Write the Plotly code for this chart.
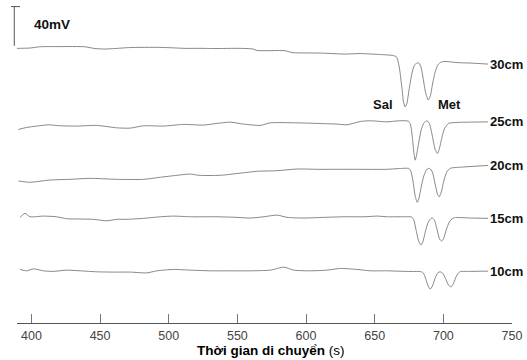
import plotly.graph_objects as go

# Electropherograms: migration time (s) and detector signal (mV, relative to the
# start of each trace) for each effective capillary length.
t_30 = [389.3, 398.8, 406.1, 420.6, 438.9, 446.2, 453.5, 460.7, 471.7, 493.6, 511.8, 522.7,
        533.7, 551.9, 561.4, 564.3, 584.7, 589.8, 610.2, 628.5, 639.4, 654.0, 663.5, 666.0,
        668.0, 670.0, 671.0, 672.2, 673.5, 675.0, 677.0, 679.0, 681.7, 683.5, 685.0, 687.0,
        689.0, 690.5, 692.0, 694.0, 696.0, 698.5, 702.0, 710.0, 720.0, 732.5]
mv_30 = [0, 0.3, 1.6, 1.8, 1.6, -0.2, -0.7, -0.2, 0.8, 1.0, 0, 0,
         -0.2, 0, -0.7, -2.2, -2.4, -4.3, -4.8, -5.8, -5.3, -6.3, -7.3, -8.9,
         -20.1, -42.4, -54.7, -59.6, -55.7, -42.4, -26.2, -17.0, -14.5, -18.0, -28.2, -44.5,
         -52.6, -48.6, -37.4, -24.1, -17.0, -13.9, -13.4, -14.5, -15.0, -16.0]

t_25 = [390.5, 396.6, 403.9, 412.4, 420.9, 433.0, 447.6, 462.2, 471.9, 481.7, 496.3, 510.8,
        525.4, 535.1, 544.8, 554.6, 566.7, 574.0, 593.5, 608.0, 622.6, 629.9, 639.6, 646.9,
        659.1, 668.0, 674.5, 676.0, 677.5, 678.5, 679.5, 680.5, 682.0, 684.0, 686.0, 688.2,
        690.0, 692.0, 694.0, 695.7, 697.0, 699.0, 701.0, 703.8, 710.0, 720.0, 732.5]
mv_25 = [0, 2.0, 3.4, 4.7, 3.7, 3.4, 4.1, 1.6, 1.3, 3.7, 3.4, 5.1,
         4.4, 6.1, 7.4, 5.4, 4.1, 6.7, 6.7, 6.1, 5.4, 4.7, 8.1, 8.8,
         7.7, 8.8, 8.4, 5.4, -8.9, -23.1, -31.3, -26.2, -13.9, 0.3, 6.9, 8.8,
         5.4, -6.8, -20.1, -24.4, -20.1, -7.9, 1.3, 6.1, 7.1, 7.4, 7.7]

t_20 = [390.5, 399.0, 413.6, 428.1, 442.7, 462.2, 481.7, 493.8, 506.0, 515.7, 521.8, 537.5,
        554.6, 564.3, 578.9, 593.5, 608.0, 622.6, 637.2, 659.1, 668.0, 675.0, 676.5, 678.0,
        679.5, 681.0, 682.3, 684.0, 686.0, 688.0, 690.0, 692.0, 694.0, 695.7, 697.0, 698.5,
        700.5, 702.5, 705.0, 715.0, 732.5]
mv_20 = [0, -1.3, 1.0, 1.7, 2.7, 1.7, 1.7, 3.8, 5.8, 7.1, 5.8, 5.8,
         8.4, 9.9, 10.5, 12.2, 11.9, 11.9, 11.9, 11.9, 12.7, 12.7, 9.2, -1.0,
         -15.3, -21.7, -17.3, -5.1, 6.1, 11.7, 12.9, 9.2, -3.1, -13.2, -16.0, -11.2,
         1.0, 9.2, 12.9, 14.3, 15.8]

t_15 = [391.7, 395.3, 399.0, 408.8, 418.4, 425.7, 435.4, 445.2, 454.9, 462.2, 469.5, 481.7,
        493.8, 503.5, 515.7, 535.1, 549.7, 559.4, 569.2, 578.9, 586.2, 598.3, 612.9, 627.5,
        642.1, 651.8, 659.1, 670.0, 677.0, 678.5, 680.0, 682.0, 683.7, 685.0, 687.0, 689.0,
        691.7, 693.5, 695.5, 697.3, 698.8, 700.3, 702.5, 705.0, 708.0, 720.0, 732.5]
mv_15 = [0, 4.1, 0.6, 1.3, 0.6, -1.4, -1.7, -2.0, -3.5, -2.0, -2.0, -1.0,
         0.6, 1.3, 0.6, 0.6, 0, -0.7, 0.6, 2.3, 0, -0.7, 0, 0.6,
         0.6, 1.3, 0.6, 0.6, 0.3, -2.7, -11.9, -24.1, -28.2, -25.2, -14.0, -4.8,
         -0.4, -2.7, -12.9, -22.1, -24.1, -21.1, -10.9, -3.3, -0.4, -0.7, -1.0]

t_10 = [391.7, 396.6, 401.5, 408.8, 416.0, 425.7, 435.4, 447.6, 459.8, 471.9, 484.1, 491.4,
        503.5, 515.7, 530.2, 544.8, 559.4, 574.0, 583.8, 591.0, 603.2, 615.3, 625.0, 637.2,
        646.9, 659.1, 672.0, 684.0, 685.5, 687.0, 688.7, 690.4, 692.0, 694.0, 696.0, 697.7,
        699.5, 701.5, 703.8, 705.7, 707.5, 709.5, 712.0, 720.0, 732.5]
mv_10 = [0, -1.4, 0.6, -1.4, -2.0, -0.7, -1.4, -2.4, -2.7, -2.7, -3.5, -1.4,
         0, -0.7, -1.4, -1.4, -1.4, -0.7, 2.3, -0.7, -1.4, -0.7, 1.0, 0,
         -1.4, -1.4, -2.0, -2.4, -3.8, -8.9, -16.0, -20.1, -17.0, -8.9, -3.3, -2.4,
         -3.8, -8.9, -16.0, -17.7, -13.9, -6.8, -2.4, -2.0, -1.7]

lengths = ["30cm", "25cm", "20cm", "15cm", "10cm"]
times = [t_30, t_25, t_20, t_15, t_10]
signals = [mv_30, mv_25, mv_20, mv_15, mv_10]
stack_offsets = [279.5, 197.0, 144.5, 107.5, 54.5]   # mV shift used to stack the traces

peak_names = ["Sal", "Met"]
x_ticks = [400, 450, 500, 550, 600, 650, 700, 750]
scale_bar_mv = 40

FONT = "Liberation Sans, Arial, sans-serif"
Y_TOP = 328.7          # mV shown over the plotting height
X_RANGE = [389.5, 750]

fig = go.Figure()

annotations = []
for name, t, mv, off in zip(lengths, times, signals, stack_offsets):
    y = [off + v for v in mv]
    fig.add_trace(go.Scatter(
        x=t, y=y, mode="lines",
        line=dict(color="#7a7a7a", width=0.9, shape="spline", smoothing=0.6),
        hoverinfo="skip", showlegend=False,
    ))
    annotations.append(dict(
        x=t[-1], y=y[-1], xref="x", yref="y", text=f"<b>{name}</b>", showarrow=False,
        xanchor="left", yanchor="middle",
        font=dict(family=FONT, size=13, color="#111111"),
    ))

# peak labels on the top trace
for name, tx in zip(peak_names, [656.0, 704.5]):
    annotations.append(dict(
        x=tx, y=221.9, xref="x", yref="y", text=f"<b>{name}</b>", showarrow=False,
        xanchor="center", yanchor="middle",
        font=dict(family=FONT, size=13, color="#111111"),
    ))

# signal scale bar
bar_base = 282.0
bar_x = -0.0055
fig.add_shape(type="line", xref="paper", yref="y", x0=bar_x, x1=bar_x,
              y0=bar_base, y1=bar_base + scale_bar_mv,
              line=dict(color="#555555", width=1))
fig.add_shape(type="line", xref="paper", yref="y", x0=-0.012, x1=0.006,
              y0=bar_base + scale_bar_mv, y1=bar_base + scale_bar_mv,
              line=dict(color="#555555", width=1))
annotations.append(dict(
    x=0.0303, y=bar_base + scale_bar_mv / 2 + 2, xref="paper", yref="y",
    text=f"<b>{scale_bar_mv}mV</b>", showarrow=False, xanchor="left", yanchor="middle",
    font=dict(family=FONT, size=13.5, color="#111111"),
))

# axis title
annotations.append(dict(
    x=0.513, y=0, xref="paper", yref="paper", yshift=-18,
    text="<b>Thời gian di chuyển</b> (s)", showarrow=False,
    xanchor="center", yanchor="top",
    font=dict(family=FONT, size=13.5, color="#000000"),
))

fig.update_layout(
    width=527, height=360,
    margin=dict(l=17, r=15, t=0, b=37),
    paper_bgcolor="white", plot_bgcolor="white",
    showlegend=False,
    annotations=annotations,
    xaxis=dict(
        range=X_RANGE, tickmode="array", tickvals=x_ticks,
        ticks="inside", ticklen=9, tickwidth=1, tickcolor="#777777",
        showline=True, linecolor="#555555", linewidth=1,
        showgrid=False, zeroline=False, ticklabelstandoff=1,
        tickfont=dict(family=FONT, size=12.5, color="#444444"),
    ),
    yaxis=dict(range=[0, Y_TOP], visible=False, showgrid=False, zeroline=False),
)

fig.write_html("out.html")
